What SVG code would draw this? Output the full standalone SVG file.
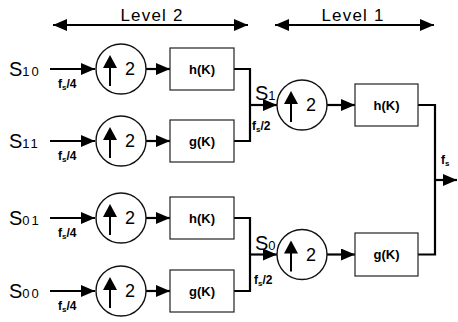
<svg xmlns="http://www.w3.org/2000/svg" width="458" height="322" viewBox="0 0 458 322">
<style>
.box{fill:#fff;stroke:#222;stroke-width:1.2}
.circ{fill:#fff;stroke:#111;stroke-width:1.4}
.ln{fill:none;stroke:#000;stroke-width:2.2}
.bt{font-family:"Liberation Sans",Arial,sans-serif;font-weight:bold;font-size:13px;text-anchor:middle}
.two{font-family:"Liberation Sans",Arial,sans-serif;font-size:18px}
.sig{font-family:"Liberation Sans",Arial,sans-serif;font-size:20px}
.sub{font-size:13px;letter-spacing:2px}
.fs{font-family:"Liberation Sans",Arial,sans-serif;font-weight:bold;font-size:12px}
.lvl{font-family:"Liberation Sans",Arial,sans-serif;font-size:17px;letter-spacing:1.2px;text-anchor:middle}
</style>
<defs>
<marker id="ah" markerUnits="userSpaceOnUse" markerWidth="14" markerHeight="12" refX="14" refY="6" orient="auto">
<path d="M0,0 L14,6 L0,12 Z" fill="#000"/>
</marker>
<marker id="ahs" markerUnits="userSpaceOnUse" markerWidth="14" markerHeight="12" refX="14" refY="6" orient="auto-start-reverse">
<path d="M0,0 L14,6 L0,12 Z" fill="#000"/>
</marker>
<g id="up">
<line x1="0" y1="-5" x2="0" y2="16" stroke="#000" stroke-width="2"/>
<path d="M-7,-2 L0,-15 L7,-2 Z" fill="#000"/>
</g>
</defs>

<g id="level2">
<line class="ln" x1="53" y1="25" x2="248" y2="25" stroke-width="2" marker-start="url(#ahs)" marker-end="url(#ahs)"/>
<text class="lvl" x="152" y="21">Level 2</text>
</g>
<g id="level1">
<line class="ln" x1="275" y1="25" x2="434" y2="25" stroke-width="2" marker-start="url(#ahs)" marker-end="url(#ahs)"/>
<text class="lvl" x="353" y="21">Level 1</text>
</g>

<g id="connectors">
<line class="ln" x1="50" y1="69" x2="95" y2="69" marker-end="url(#ah)"/>
<line class="ln" x1="50" y1="141" x2="95" y2="141" marker-end="url(#ah)"/>
<line class="ln" x1="50" y1="218" x2="95" y2="218" marker-end="url(#ah)"/>
<line class="ln" x1="50" y1="291" x2="95" y2="291" marker-end="url(#ah)"/>
<line class="ln" x1="146" y1="69" x2="170" y2="69" marker-end="url(#ah)"/>
<line class="ln" x1="146" y1="141" x2="170" y2="141" marker-end="url(#ah)"/>
<line class="ln" x1="146" y1="218" x2="170" y2="218" marker-end="url(#ah)"/>
<line class="ln" x1="146" y1="291" x2="170" y2="291" marker-end="url(#ah)"/>
<polyline class="ln" points="234,69 250,69 250,141 234,141"/>
<polyline class="ln" points="234,218 250,218 250,291 234,291"/>
<line class="ln" x1="250" y1="105" x2="277" y2="105" marker-end="url(#ah)"/>
<line class="ln" x1="250" y1="254.5" x2="277" y2="254.5" marker-end="url(#ah)"/>
<line class="ln" x1="327" y1="105" x2="355" y2="105" marker-end="url(#ah)"/>
<line class="ln" x1="327" y1="254.5" x2="355" y2="254.5" marker-end="url(#ah)"/>
<polyline class="ln" points="418,105 435,105 435,254.5 418,254.5"/>
<line class="ln" x1="435" y1="180" x2="457" y2="180" marker-end="url(#ah)"/>
</g>

<g id="s10"><text class="sig" x="9" y="76">S<tspan class="sub">10</tspan></text></g>
<g id="s11"><text class="sig" x="9" y="148">S<tspan class="sub">11</tspan></text></g>
<g id="s01"><text class="sig" x="9" y="225">S<tspan class="sub">01</tspan></text></g>
<g id="s00"><text class="sig" x="9" y="298">S<tspan class="sub">00</tspan></text></g>

<g id="fs4a"><text class="fs" x="58" y="88">f<tspan font-size="8" dy="2">s</tspan><tspan dy="-2">/4</tspan></text></g>
<g id="fs4b"><text class="fs" x="58" y="160">f<tspan font-size="8" dy="2">s</tspan><tspan dy="-2">/4</tspan></text></g>
<g id="fs4c"><text class="fs" x="58" y="237">f<tspan font-size="8" dy="2">s</tspan><tspan dy="-2">/4</tspan></text></g>
<g id="fs4d"><text class="fs" x="58" y="310">f<tspan font-size="8" dy="2">s</tspan><tspan dy="-2">/4</tspan></text></g>

<g id="up10"><circle class="circ" cx="121" cy="69" r="25"/><use href="#up" x="110" y="70"/><text class="two" x="125" y="75">2</text></g>
<g id="up11"><circle class="circ" cx="121" cy="141" r="25"/><use href="#up" x="110" y="142"/><text class="two" x="125" y="147">2</text></g>
<g id="up01"><circle class="circ" cx="121" cy="218" r="25"/><use href="#up" x="110" y="219"/><text class="two" x="125" y="224">2</text></g>
<g id="up00"><circle class="circ" cx="121" cy="291" r="25"/><use href="#up" x="110" y="292"/><text class="two" x="125" y="297">2</text></g>

<g id="h10"><rect class="box" x="170" y="48" width="64" height="42"/><text class="bt" x="202" y="74">h(K)</text></g>
<g id="g11"><rect class="box" x="170" y="120" width="64" height="42"/><text class="bt" x="202" y="146">g(K)</text></g>
<g id="h01"><rect class="box" x="170" y="197" width="64" height="42"/><text class="bt" x="202" y="223">h(K)</text></g>
<g id="g00"><rect class="box" x="170" y="270" width="64" height="42"/><text class="bt" x="202" y="296">g(K)</text></g>

<g id="s1"><text class="sig" x="255" y="100">S<tspan class="sub">1</tspan></text></g>
<g id="fs2a"><text class="fs" x="252" y="130">f<tspan font-size="8" dy="2">s</tspan><tspan dy="-2">/2</tspan></text></g>
<g id="s0"><text class="sig" x="255" y="250">S<tspan class="sub">0</tspan></text></g>
<g id="fs2b"><text class="fs" x="254" y="284">f<tspan font-size="8" dy="2">s</tspan><tspan dy="-2">/2</tspan></text></g>

<g id="up1"><circle class="circ" cx="302" cy="105" r="25"/><use href="#up" x="291" y="106"/><text class="two" x="306" y="111">2</text></g>
<g id="up0"><circle class="circ" cx="302" cy="254.5" r="25"/><use href="#up" x="291" y="255.5"/><text class="two" x="306" y="260.5">2</text></g>

<g id="h1"><rect class="box" x="355" y="84" width="63" height="42"/><text class="bt" x="386.5" y="110">h(K)</text></g>
<g id="g0"><rect class="box" x="355" y="233" width="63" height="43"/><text class="bt" x="386.5" y="259">g(K)</text></g>

<g id="fs"><text class="fs" x="441" y="164">f<tspan font-size="8" dy="2">s</tspan></text></g>
</svg>
